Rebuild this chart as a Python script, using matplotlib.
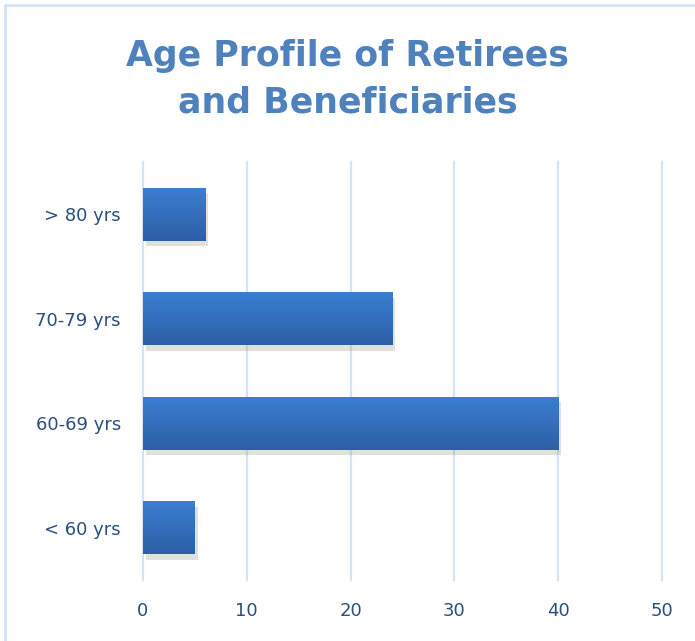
import numpy as np
from matplotlib import pyplot as plt
from matplotlib import patheffects as pe
from matplotlib.colors import LinearSegmentedColormap
from matplotlib.patches import Rectangle

# Data
age_groups = ['< 60 yrs', '60-69 yrs', '70-79 yrs', '> 80 yrs']
counts = [5, 40, 24, 6]
x_ticks = [0, 10, 20, 30, 40, 50]

title_color = '#4F81BD'
label_color = '#2A4F7F'
grid_color = '#D5E3F6'

fig = plt.figure(figsize=(6.95, 6.41), dpi=100)
ax = fig.add_axes([143 / 695, 1 - 580 / 641, (662 - 143) / 695, (580 - 162) / 641])

# light frame around the chart area
fig.patches.append(Rectangle((5 / 695, -0.1), 1.2, 1 - 5 / 641 + 0.1,
                             transform=fig.transFigure, fill=False,
                             edgecolor=grid_color, linewidth=2))

ypos = np.arange(len(age_groups))
bars = ax.barh(ypos, counts, height=0.51, color='#3571C0', zorder=3,
               path_effects=[pe.SimplePatchShadow(offset=(2, -4), shadow_rgbFace='#999999', alpha=0.3),
                             pe.Normal()])

# vertical gradient on each bar, lighter at the top
grad = LinearSegmentedColormap.from_list('bar', ['#2D5FA6', '#3B7ED2'])
for b in bars:
    x0, y0 = b.get_x(), b.get_y()
    w, h = b.get_width(), b.get_height()
    img = ax.imshow(np.linspace(0, 1, 64).reshape(-1, 1), cmap=grad, aspect='auto',
                    extent=[x0, x0 + w, y0, y0 + h], origin='lower', zorder=4)
    img.set_clip_path(b)

ax.set_xlim(0, 50)
ax.set_ylim(-0.5, len(age_groups) - 0.5)
ax.set_xticks(x_ticks)
ax.set_yticks(ypos)
ax.set_yticklabels(age_groups)
ax.tick_params(length=0, labelsize=13, labelcolor=label_color)
ax.tick_params(axis='x', pad=16)
ax.tick_params(axis='y', pad=16)
ax.grid(True, axis='x', color=grid_color, linewidth=1.6, zorder=0)
for gl in ax.get_xgridlines():
    gl.set_clip_on(False)
for s in ax.spines.values():
    s.set_visible(False)

fig.text(0.5, 1 - 79 / 641, 'Age Profile of Retirees\nand Beneficiaries', ha='center', va='center',
         fontsize=25, fontweight='bold', color=title_color, linespacing=1.45)

fig.savefig('out.png', dpi=100)
